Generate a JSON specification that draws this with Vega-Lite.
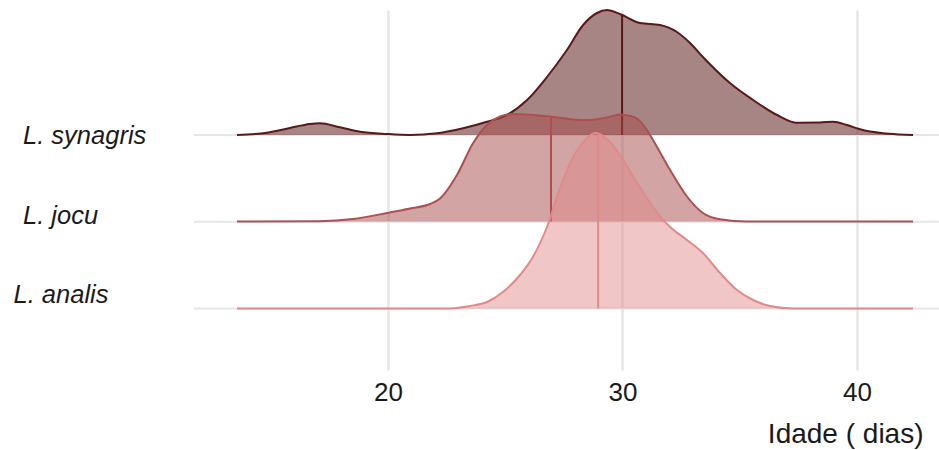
{
  "$schema": "https://vega.github.io/schema/vega-lite/v6.json",
  "width": 745,
  "height": 360,
  "autosize": {"type": "none"},
  "padding": {"left": 194, "top": 10, "right": 0, "bottom": 80},
  "background": "white",
  "config": {
    "view": {"stroke": null},
    "axis": {"labelFont": "Liberation Sans", "titleFont": "Liberation Sans", "labelColor": "#1a1a1a", "titleColor": "#1a1a1a"}
  },
  "datasets": {
    "dens": [
      {"species": "L. synagris", "x": 13.56, "d": 0},
      {"species": "L. synagris", "x": 14.84, "d": 0.0023},
      {"species": "L. synagris", "x": 15.82, "d": 0.007},
      {"species": "L. synagris", "x": 16.67, "d": 0.011},
      {"species": "L. synagris", "x": 17.1, "d": 0.0117},
      {"species": "L. synagris", "x": 17.95, "d": 0.0077},
      {"species": "L. synagris", "x": 18.81, "d": 0.0033},
      {"species": "L. synagris", "x": 19.96, "d": 0.001},
      {"species": "L. synagris", "x": 20.94, "d": 0},
      {"species": "L. synagris", "x": 22.09, "d": 0.0017},
      {"species": "L. synagris", "x": 23.2, "d": 0.0067},
      {"species": "L. synagris", "x": 24.22, "d": 0.0133},
      {"species": "L. synagris", "x": 25.07, "d": 0.02},
      {"species": "L. synagris", "x": 25.93, "d": 0.035},
      {"species": "L. synagris", "x": 26.78, "d": 0.058},
      {"species": "L. synagris", "x": 27.63, "d": 0.085},
      {"species": "L. synagris", "x": 28.32, "d": 0.11},
      {"species": "L. synagris", "x": 28.91, "d": 0.122},
      {"species": "L. synagris", "x": 29.34, "d": 0.125},
      {"species": "L. synagris", "x": 29.89, "d": 0.121},
      {"species": "L. synagris", "x": 30.75, "d": 0.112},
      {"species": "L. synagris", "x": 31.6, "d": 0.11},
      {"species": "L. synagris", "x": 32.32, "d": 0.103},
      {"species": "L. synagris", "x": 32.88, "d": 0.092},
      {"species": "L. synagris", "x": 33.43, "d": 0.078},
      {"species": "L. synagris", "x": 34.58, "d": 0.052},
      {"species": "L. synagris", "x": 35.57, "d": 0.035},
      {"species": "L. synagris", "x": 36.59, "d": 0.02},
      {"species": "L. synagris", "x": 37.44, "d": 0.0123},
      {"species": "L. synagris", "x": 38.42, "d": 0.0125},
      {"species": "L. synagris", "x": 38.98, "d": 0.0133},
      {"species": "L. synagris", "x": 39.57, "d": 0.01},
      {"species": "L. synagris", "x": 40.13, "d": 0.0057},
      {"species": "L. synagris", "x": 41.11, "d": 0.0017},
      {"species": "L. synagris", "x": 41.83, "d": 0.0005},
      {"species": "L. synagris", "x": 42.39, "d": 0},
      {"species": "L. jocu", "x": 13.56, "d": 0},
      {"species": "L. jocu", "x": 17.1, "d": 0.0003},
      {"species": "L. jocu", "x": 18.51, "d": 0.0025},
      {"species": "L. jocu", "x": 19.96, "d": 0.0085},
      {"species": "L. jocu", "x": 20.94, "d": 0.013},
      {"species": "L. jocu", "x": 21.79, "d": 0.0175},
      {"species": "L. jocu", "x": 22.22, "d": 0.023},
      {"species": "L. jocu", "x": 22.94, "d": 0.0465},
      {"species": "L. jocu", "x": 23.62, "d": 0.078},
      {"species": "L. jocu", "x": 24.22, "d": 0.0965},
      {"species": "L. jocu", "x": 24.78, "d": 0.105},
      {"species": "L. jocu", "x": 25.33, "d": 0.1075},
      {"species": "L. jocu", "x": 26.18, "d": 0.1065},
      {"species": "L. jocu", "x": 26.91, "d": 0.105},
      {"species": "L. jocu", "x": 27.89, "d": 0.102},
      {"species": "L. jocu", "x": 28.61, "d": 0.1015},
      {"species": "L. jocu", "x": 29.34, "d": 0.104},
      {"species": "L. jocu", "x": 29.89, "d": 0.107},
      {"species": "L. jocu", "x": 30.35, "d": 0.1055},
      {"species": "L. jocu", "x": 30.62, "d": 0.103},
      {"species": "L. jocu", "x": 31.04, "d": 0.0915},
      {"species": "L. jocu", "x": 31.3, "d": 0.0815},
      {"species": "L. jocu", "x": 32.03, "d": 0.0515},
      {"species": "L. jocu", "x": 32.75, "d": 0.025},
      {"species": "L. jocu", "x": 33.43, "d": 0.0085},
      {"species": "L. jocu", "x": 34.16, "d": 0.0022},
      {"species": "L. jocu", "x": 35.3, "d": 0},
      {"species": "L. jocu", "x": 42.39, "d": 0},
      {"species": "L. analis", "x": 13.56, "d": 0},
      {"species": "L. analis", "x": 22.64, "d": 0},
      {"species": "L. analis", "x": 23.5, "d": 0.0025},
      {"species": "L. analis", "x": 24.22, "d": 0.0065},
      {"species": "L. analis", "x": 24.9, "d": 0.0165},
      {"species": "L. analis", "x": 25.63, "d": 0.0335},
      {"species": "L. analis", "x": 26.18, "d": 0.0515},
      {"species": "L. analis", "x": 26.78, "d": 0.0815},
      {"species": "L. analis", "x": 27.33, "d": 0.12},
      {"species": "L. analis", "x": 27.89, "d": 0.151},
      {"species": "L. analis", "x": 28.49, "d": 0.1705},
      {"species": "L. analis", "x": 28.83, "d": 0.1755},
      {"species": "L. analis", "x": 29.47, "d": 0.1665},
      {"species": "L. analis", "x": 29.89, "d": 0.1535},
      {"species": "L. analis", "x": 30.62, "d": 0.1255},
      {"species": "L. analis", "x": 31.3, "d": 0.1015},
      {"species": "L. analis", "x": 32.03, "d": 0.0815},
      {"species": "L. analis", "x": 32.75, "d": 0.0685},
      {"species": "L. analis", "x": 33.43, "d": 0.0555},
      {"species": "L. analis", "x": 34.16, "d": 0.0355},
      {"species": "L. analis", "x": 34.88, "d": 0.0185},
      {"species": "L. analis", "x": 35.57, "d": 0.0085},
      {"species": "L. analis", "x": 36.29, "d": 0.0025},
      {"species": "L. analis", "x": 37.27, "d": 0},
      {"species": "L. analis", "x": 42.39, "d": 0}
    ],
    "med": [
      {"species": "L. synagris", "x": 29.98, "d": 0.12},
      {"species": "L. jocu", "x": 26.95, "d": 0.1048},
      {"species": "L. analis", "x": 28.96, "d": 0.173}
    ]
  },
  "layer": [
    {
      "data": {"values": [{"species": "L. synagris"}, {"species": "L. jocu"}, {"species": "L. analis"}]},
      "mark": {"type": "rule", "color": "#e6e6e6", "strokeWidth": 2},
      "encoding": {
        "y": {
          "field": "species", "type": "nominal", "sort": null,
          "scale": {"type": "point", "domain": ["L. synagris", "L. jocu", "L. analis"], "range": [125, 298.5], "padding": 0},
          "axis": {
            "title": null, "domain": false, "ticks": false, "tickSize": 0, "grid": false,
            "labelFontSize": 25.5, "labelFontStyle": "italic", "labelAlign": "left", "labelBaseline": "alphabetic",
            "labelPadding": {"expr": "datum.value == 'L. analis' ? 181 : 171.5"},
            "labelOffset": {"expr": "datum.value == 'L. analis' ? -6 : datum.value == 'L. jocu' ? 1.5 : 8"},
            "labelLimit": 300
          }
        }
      }
    },
    {
      "layer": [
        {
          "data": {"name": "dens"},
          "transform": [{"filter": "datum.species == 'L. synagris'"}],
          "mark": {"type": "area", "interpolate": "monotone", "color": "#5a1818", "fillOpacity": 0.53, "line": {"color": "#5a1818", "strokeWidth": 2}},
          "encoding": {
            "x": {"field": "x", "type": "quantitative", "scale": {"domain": [11.727, 43.497], "nice": false, "zero": false},
              "axis": {"values": [20, 30, 40], "grid": true, "gridColor": "#e6e6e6", "gridWidth": 2.5, "domain": false, "ticks": false, "tickSize": 0,
                "labelFontSize": 26, "labelPadding": 9, "title": "Idade ( dias)", "titleFontSize": 28, "titleFontWeight": "normal",
                "titleAnchor": null, "titleAlign": "right", "titleBaseline": "alphabetic", "titleX": 729, "titleY": 72}},
            "y": {"field": "d", "type": "quantitative", "scale": {"domain": [-0.235, 0.125], "nice": false, "zero": false}, "axis": null},
            "y2": {"datum": 0}
          }
        },
        {
          "data": {"name": "med"},
          "transform": [{"filter": "datum.species == 'L. synagris'"}],
          "mark": {"type": "rule", "color": "#5a1818", "strokeWidth": 2},
          "encoding": {
            "x": {"field": "x", "type": "quantitative"},
            "y": {"field": "d", "type": "quantitative"},
            "y2": {"datum": 0}
          }
        }
      ]
    },
    {
      "layer": [
        {
          "data": {"name": "dens"},
          "transform": [{"filter": "datum.species == 'L. jocu'"}],
          "mark": {"type": "area", "interpolate": "monotone", "color": "#a84a4a", "fillOpacity": 0.5, "line": {"color": "#ad5050", "strokeWidth": 2}},
          "encoding": {
            "x": {"field": "x", "type": "quantitative"},
            "y": {"field": "d", "type": "quantitative", "scale": {"domain": [-0.1485, 0.2115], "nice": false, "zero": false}, "axis": null},
            "y2": {"datum": 0}
          }
        },
        {
          "data": {"name": "med"},
          "transform": [{"filter": "datum.species == 'L. jocu'"}],
          "mark": {"type": "rule", "color": "#ad5050", "strokeWidth": 2},
          "encoding": {
            "x": {"field": "x", "type": "quantitative"},
            "y": {"field": "d", "type": "quantitative"},
            "y2": {"datum": 0}
          }
        }
      ]
    },
    {
      "layer": [
        {
          "data": {"name": "dens"},
          "transform": [{"filter": "datum.species == 'L. analis'"}],
          "mark": {"type": "area", "interpolate": "monotone", "color": "#df8888", "fillOpacity": 0.48, "line": {"color": "#e08a8a", "strokeWidth": 2}},
          "encoding": {
            "x": {"field": "x", "type": "quantitative"},
            "y": {"field": "d", "type": "quantitative", "scale": {"domain": [-0.0615, 0.2985], "nice": false, "zero": false}, "axis": null},
            "y2": {"datum": 0}
          }
        },
        {
          "data": {"name": "med"},
          "transform": [{"filter": "datum.species == 'L. analis'"}],
          "mark": {"type": "rule", "color": "#e08a8a", "strokeWidth": 2},
          "encoding": {
            "x": {"field": "x", "type": "quantitative"},
            "y": {"field": "d", "type": "quantitative"},
            "y2": {"datum": 0}
          }
        }
      ]
    }
  ],
  "resolve": {"scale": {"y": "independent"}, "axis": {"y": "independent"}}
}
